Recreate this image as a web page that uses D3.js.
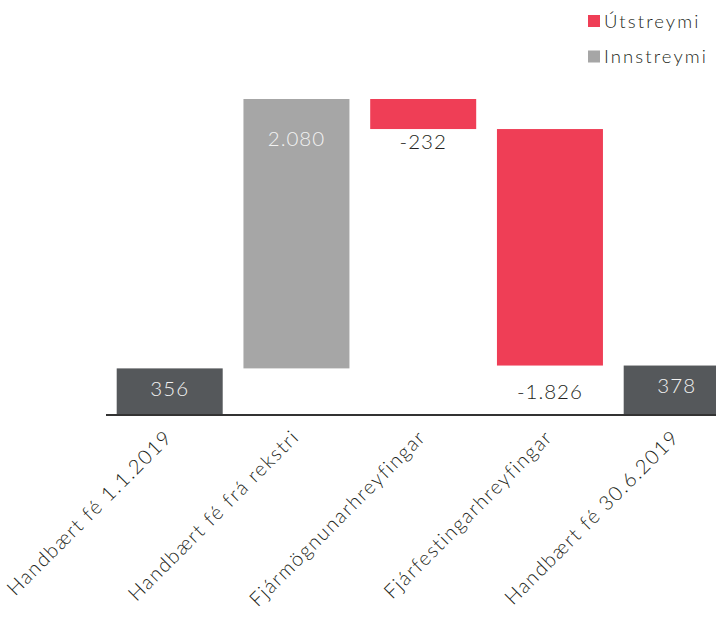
<!DOCTYPE html>
<html>
<head>
<meta charset="utf-8">
<script src="https://cdn.jsdelivr.net/npm/d3@7"></script>
<style>
  html, body { margin: 0; padding: 0; background: #fff; }
  svg { display: block; font-family: Lato, sans-serif; font-weight: 300; }
</style>
</head>
<body>
<svg id="chart" width="716" height="619"></svg>
<script>
// ---- data ----
const categories = ["Handbært fé 1.1.2019", "Handbært fé frá rekstri", "Fjármögnunarhreyfingar", "Fjárfestingarhreyfingar", "Handbært fé 30.6.2019"];
const values = [356, 2080, -232, -1826, 378];
const kinds = ["total", "in", "out", "out", "total"];
const valueLabels = ["356", "2.080", "-232", "-1.826", "378"];
const legendLabels = ["Útstreymi", "Innstreymi"];

// ---- style ----
const colors = { total: "#55585b", in: "#a6a6a6", out: "#ef3e56" };
const labelDy = [20, 40, 13, 26, 20];
const FONT = "Lato, sans-serif";

// running totals
let run = 0;
const bars = categories.map((c, i) => {
  let y0, y1;
  if (kinds[i] === "total") { y0 = 0; y1 = values[i]; run = values[i]; }
  else { y0 = run; y1 = run + values[i]; run = y1; }
  return { cat: c, v: values[i], kind: kinds[i], lo: Math.min(y0, y1), hi: Math.max(y0, y1), label: valueLabels[i], dy: labelDy[i] };
});

const svg = d3.select("#chart");
const step = 126.75, bw = 106;
const x = d3.scaleBand().domain(categories)
  .range([116.7, 116.7 + 5 * step - (step - bw)])
  .paddingInner((step - bw) / step).paddingOuter(0);
const y = d3.scaleLinear().domain([0, d3.max(bars, d => d.hi)]).range([414.5, 99]);

svg.append("g").selectAll("rect").data(bars).join("rect")
  .attr("x", d => x(d.cat)).attr("width", x.bandwidth())
  .attr("y", d => y(d.hi)).attr("height", d => y(d.lo) - y(d.hi))
  .attr("fill", d => colors[d.kind]);

// axis
const axis = svg.append("g").attr("transform", `translate(0,${y(0)})`)
  .call(d3.axisBottom(x).tickSize(0).tickPadding(0));
axis.select(".domain").remove();
svg.append("line").attr("x1", 106).attr("x2", 716).attr("y1", y(0) + 0.6).attr("y2", y(0) + 0.6)
  .attr("stroke", "#333").attr("stroke-width", 2);
axis.selectAll(".tick text")
  .attr("font-family", FONT).attr("font-weight", 300)
  .attr("font-size", 20).attr("fill", "#231f20")
  .attr("letter-spacing", "1.5px")
  .attr("text-anchor", "end")
  .attr("transform", "translate(-6,14) rotate(-45)")
  .attr("dy", "0.7em").attr("y", 0).attr("x", 0);

// value labels
svg.append("g").selectAll("text").data(bars).join("text")
  .attr("x", d => x(d.cat) + x.bandwidth() / 2)
  .attr("y", d => d.kind === "out" ? y(d.lo) + d.dy : y(d.hi) + d.dy)
  .attr("dy", "0.35em")
  .attr("text-anchor", "middle")
  .attr("font-size", 20.5)
  .attr("letter-spacing", "1px")
  .attr("fill", d => d.kind === "out" ? "#231f20" : "#f2f2f2")
  .text(d => d.label);

// legend
const legend = svg.append("g");
const legendColors = [colors.out, colors.in];
legendLabels.forEach((l, i) => {
  const g = legend.append("g").attr("transform", `translate(588,${15 + i * 35.5})`);
  g.append("rect").attr("width", 12).attr("height", 12).attr("fill", legendColors[i]);
  g.append("text").attr("x", 16).attr("y", 12.5).attr("font-size", 18.5)
    .attr("letter-spacing", "2.1px").attr("fill", "#231f20").text(l);
});
</script>
</body>
</html>
